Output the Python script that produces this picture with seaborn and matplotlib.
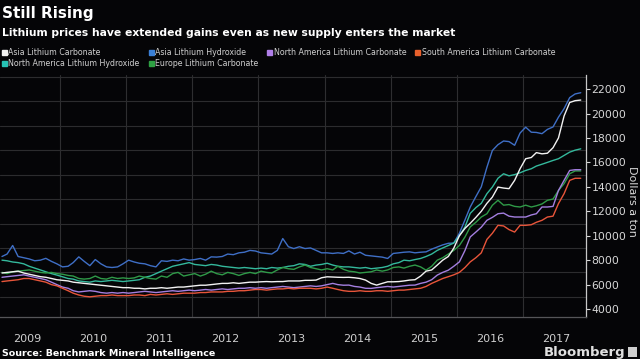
import matplotlib
matplotlib.use("Agg")
import matplotlib.pyplot as plt
import matplotlib.dates as mdates
from matplotlib.lines import Line2D
from matplotlib.ticker import FuncFormatter
import numpy as np
import pandas as pd
import seaborn as sns

# ---------------- data (USD per ton, monthly Feb 2009 - Nov 2017) ----------------
series_names = ["Asia Lithium Carbonate", "North America Lithium Hydroxide",
                "Asia Lithium Hydroxide", "Europe Lithium Carbonate",
                "North America Lithium Carbonate", "South America Lithium Carbonate"]

asia_carbonate = [
    6950, 7000, 7050, 7100, 6950, 6850, 6750, 6650, 6600, 6500, 6400,
    6350, 6300, 6200, 6150, 6100, 6050, 6000, 5950, 5900, 5850, 5800, 5750,
    5750, 5700, 5700, 5650, 5700, 5700, 5750, 5700, 5750, 5800, 5800, 5850,
    5900, 5950, 5950, 6000, 6050, 6100, 6100, 6150, 6100, 6150, 6200, 6200,
    6230, 6250, 6230, 6250, 6250, 6300, 6300, 6300, 6350, 6350, 6370, 6560,
    6640, 6620, 6600, 6590, 6600, 6560, 6500, 6370, 6100, 5960, 6100, 6230,
    6230, 6250, 6300, 6370, 6400, 6700, 7100, 7200, 7600, 8000, 8300, 8980,
    10000, 10600, 11020, 11500, 12000, 12650, 13160, 13980, 13900, 13850, 14530, 15480,
    16300, 16400, 16800, 16700, 16750, 17200, 18000, 19800, 20900, 21050, 21100]

asia_hydroxide = [
    8300, 8500, 9200, 8300, 8200, 8100, 7950, 8000, 8150, 7900, 7700,
    7450, 7500, 7800, 8270, 7900, 7550, 8050, 7700, 7450, 7400, 7450, 7700,
    8000, 7850, 7750, 7700, 7550, 7450, 7950, 7900, 8000, 7950, 8100, 8000,
    8050, 8140, 8000, 8270, 8250, 8300, 8500, 8450, 8600, 8650, 8800, 8750,
    8600, 8550, 8500, 8800, 9770, 9100, 8950, 9100, 8950, 9000, 8800, 8600,
    8600, 8550, 8600, 8550, 8760, 8500, 8650, 8400, 8350, 8300, 8250, 8140,
    8550, 8600, 8650, 8680, 8600, 8650, 8680, 8900, 9080, 9250, 9380, 9400,
    10200, 11300, 12350, 13200, 14000, 15600, 16970, 17450, 17750, 17700, 17400, 18400,
    18880, 18470, 18450, 18350, 18700, 18900, 19700, 20400, 21300, 21600, 21700]

na_carbonate = [
    6600, 6650, 6700, 6750, 6800, 6700, 6600, 6500, 6400, 6200, 6000,
    5800, 5700, 5500, 5400, 5450, 5500, 5450, 5350, 5300, 5350, 5300, 5350,
    5300, 5350, 5400, 5450, 5400, 5350, 5400, 5450, 5500, 5450, 5500, 5550,
    5500, 5550, 5600, 5550, 5600, 5650, 5600, 5650, 5700, 5700, 5750, 5700,
    5750, 5700, 5750, 5800, 5850, 5800, 5750, 5800, 5850, 5900, 5850, 5900,
    6000, 6100, 6000, 5950, 5960, 5850, 5800, 5700, 5690, 5750, 5800, 5850,
    5800, 5850, 5900, 5950, 5960, 6100, 6200, 6400, 6780, 7000, 7180, 7500,
    7860, 8800, 9900, 10300, 10700, 11260, 11500, 11800, 11850, 11600, 11530, 11530,
    11530, 11700, 11800, 12350, 12350, 12400, 13700, 14530, 15340, 15400, 15400]

sa_carbonate = [
    6250, 6300, 6350, 6400, 6500, 6500, 6400, 6300, 6200, 6000, 5900,
    5700, 5500, 5300, 5150, 5050, 5000, 5050, 5100, 5100, 5150, 5100, 5100,
    5100, 5150, 5150, 5100, 5200, 5150, 5200, 5250, 5200, 5250, 5300, 5300,
    5300, 5350, 5350, 5400, 5400, 5400, 5450, 5450, 5500, 5500, 5550, 5600,
    5600, 5550, 5600, 5650, 5650, 5700, 5650, 5700, 5700, 5700, 5650, 5700,
    5800, 5700, 5600, 5500, 5450, 5450, 5500, 5450, 5450, 5500, 5500, 5450,
    5500, 5550, 5550, 5600, 5650, 5700, 5850, 6100, 6300, 6500, 6650, 6800,
    7000, 7400, 7860, 8200, 8600, 9700, 10200, 10850, 10800, 10500, 10300, 10850,
    10850, 10900, 11100, 11260, 11530, 11600, 12630, 13440, 14530, 14700, 14700]

na_hydroxide = [
    8000, 7950, 7850, 7800, 7700, 7500, 7350, 7200, 7050, 6900, 6780,
    6640, 6500, 6450, 6300, 6250, 6200, 6300, 6250, 6300, 6350, 6300, 6250,
    6300, 6350, 6400, 6600, 6700, 6900, 7100, 7300, 7500, 7600, 7700, 7800,
    7650, 7600, 7550, 7650, 7600, 7500, 7450, 7400, 7350, 7400, 7350, 7300,
    7350, 7300, 7400, 7350, 7400, 7500, 7550, 7700, 7650, 7500, 7600, 7650,
    7750, 7600, 7500, 7450, 7450, 7400, 7350, 7400, 7300, 7350, 7400, 7500,
    7700, 7800, 8000, 7950, 8050, 8140, 8300, 8500, 8800, 9000, 9200, 9400,
    10000, 10720, 11830, 12300, 12650, 13440, 13980, 14700, 15070, 14900, 15000, 15150,
    15340, 15480, 15700, 15850, 16000, 16160, 16300, 16570, 16840, 17000, 17110]

europe_carbonate = [
    7000, 6900, 7050, 7100, 7150, 7200, 7100, 7000, 6950, 7000, 6900,
    6850, 6750, 6700, 6500, 6450, 6500, 6700, 6500, 6450, 6600, 6500, 6550,
    6500, 6550, 6700, 6600, 6500, 6450, 6700, 6600, 6900, 7000, 6700, 6800,
    6900, 6700, 6850, 7100, 6900, 6800, 7000, 6900, 6750, 6900, 7000, 6900,
    7100, 7000, 6950, 7200, 7400, 7300, 7250, 7450, 7600, 7400, 7300, 7200,
    7300, 7200, 7500, 7250, 7100, 7050, 6950, 7000, 7050, 7200, 7100, 7200,
    7400, 7450, 7350, 7500, 7600, 7450, 7180, 7500, 8000, 8200, 8500, 8800,
    9200, 9900, 10720, 11100, 11530, 11800, 12490, 12900, 12500, 12550, 12400, 12350,
    12500, 12350, 12450, 12600, 12900, 13000, 13700, 14260, 15070, 15300, 15300]

values = {
    "Asia Lithium Carbonate": asia_carbonate,
    "North America Lithium Hydroxide": na_hydroxide,
    "Asia Lithium Hydroxide": asia_hydroxide,
    "Europe Lithium Carbonate": europe_carbonate,
    "North America Lithium Carbonate": na_carbonate,
    "South America Lithium Carbonate": sa_carbonate,
}
colors = {
    "Asia Lithium Carbonate": "#f2f2f2",
    "North America Lithium Hydroxide": "#34b99c",
    "Asia Lithium Hydroxide": "#3f6fc6",
    "Europe Lithium Carbonate": "#2f9a48",
    "North America Lithium Carbonate": "#a47fe0",
    "South America Lithium Carbonate": "#e8553a",
}
legend_colors = {
    "Asia Lithium Carbonate": "#f2f2f2",
    "North America Lithium Hydroxide": "#27c3b5",
    "Asia Lithium Hydroxide": "#3a7fd5",
    "Europe Lithium Carbonate": "#2ea043",
    "North America Lithium Carbonate": "#b07fe8",
    "South America Lithium Carbonate": "#e8602c",
}

dates = pd.date_range("2009-02-01", periods=len(asia_carbonate), freq="MS") + pd.Timedelta(days=14)
frames = []
for name in series_names:
    frames.append(pd.DataFrame({"date": dates, "price": values[name], "series": name}))
df = pd.concat(frames, ignore_index=True)

# ---------------- style ----------------
BG = "#050507"
sns.set_theme(style="dark")
plt.rcParams["font.family"] = ["DejaVu Sans"]

fig = plt.figure(figsize=(6.4, 3.59), dpi=100, facecolor=BG)
ax = fig.add_axes([0.0, 1 - 317 / 359, 586 / 640, (317 - 75) / 359])
ax.set_facecolor(BG)

draw_order = ["Asia Lithium Hydroxide", "North America Lithium Hydroxide", "Europe Lithium Carbonate",
              "North America Lithium Carbonate", "South America Lithium Carbonate", "Asia Lithium Carbonate"]
sns.lineplot(data=df, x="date", y="price", hue="series", hue_order=draw_order,
             palette=colors, linewidth=1.0, legend=False, ax=ax, estimator=None)

ax.set_xlim(pd.Timestamp("2009-02-04"), pd.Timestamp("2017-12-14"))
ax.set_ylim(3350, 23150)

# y axis on right
ax.yaxis.tick_right()
ax.yaxis.set_label_position("right")
ax.set_yticks(np.arange(4000, 22001, 2000))
ax.set_yticks(np.arange(5000, 23001, 2000), minor=True)
ax.yaxis.set_major_formatter(FuncFormatter(lambda v, p: f"{int(v)}"))
ax.tick_params(axis="y", which="major", colors="#d8d8d8", labelsize=7.8, length=3, width=0.8,
               pad=1, direction="out")
ax.tick_params(axis="y", which="minor", length=0)
ax.grid(False)
ax.grid(axis="y", which="minor", color="#2c2c2e", linewidth=0.8)

# x axis: year dividers and centred labels
ax.xaxis.set_major_locator(mdates.YearLocator())
ax.xaxis.set_major_formatter(plt.NullFormatter())
ax.xaxis.set_minor_locator(mdates.MonthLocator(bymonth=7, bymonthday=2))
ax.xaxis.set_minor_formatter(FuncFormatter(lambda v, p: mdates.num2date(v).strftime("%Y")))
ax.tick_params(axis="x", which="major", length=19, width=0.8, color="#3c3c3e", direction="out")
ax.tick_params(axis="x", which="minor", length=0, labelsize=8, labelcolor="#cfcfcf", pad=12)
ax.grid(axis="x", which="major", color="#2e2e30", linewidth=0.8)

ax.set_xlabel("")
ax.set_ylabel("Dollars a ton", color="#d8d8d8", fontsize=8, rotation=270, va="center", ha="center")
ax.yaxis.set_label_coords(632 / 586, 1 - 126 / 242)

for s in ["top", "left"]:
    ax.spines[s].set_visible(False)
ax.spines["right"].set_color("#c8c8c8")
ax.spines["right"].set_linewidth(0.9)
ax.spines["bottom"].set_color("#555558")
ax.spines["bottom"].set_linewidth(0.9)

# ---------------- texts ----------------
fig.text(2 / 640, 1 - 18 / 359, "Still Rising", color="white", fontsize=11,
         fontweight="bold", ha="left", va="baseline")
fig.text(2 / 640, 1 - 36 / 359,
         "Lithium prices have extended gains even as new supply enters the market",
         color="white", fontsize=7.75, fontweight="bold", ha="left", va="baseline")

handles = [Line2D([0], [0], marker="s", linestyle="none", markersize=3.6,
                  markerfacecolor=legend_colors[n], markeredgecolor=legend_colors[n])
           for n in series_names]
leg = fig.legend(handles, series_names, ncol=4, loc="upper left",
                 bbox_to_anchor=(0.0, 1 - 46 / 359), frameon=False, fontsize=5.7,
                 handlelength=0.6, handletextpad=0.25, columnspacing=1.1,
                 labelspacing=0.25, borderpad=0.2, borderaxespad=0)
for t in leg.get_texts():
    t.set_color("#cfcfcf")

fig.text(2 / 640, 1 - 356 / 359, "Source: Benchmark Mineral Intelligence", color="white",
         fontsize=6.8, fontweight="bold", ha="left", va="baseline")
fig.text(625 / 640, 1 - 356 / 359, "Bloomberg", color="#e0e0e0",
         fontsize=9.5, fontweight="bold", ha="right", va="baseline")
fig.patches.append(plt.Rectangle((628 / 640, 1 - 357 / 359), 9 / 640, 10 / 359,
                                 transform=fig.transFigure, facecolor="#cfcfcf",
                                 edgecolor="none", figure=fig))

fig.savefig("out.png", dpi=100, facecolor=BG)
